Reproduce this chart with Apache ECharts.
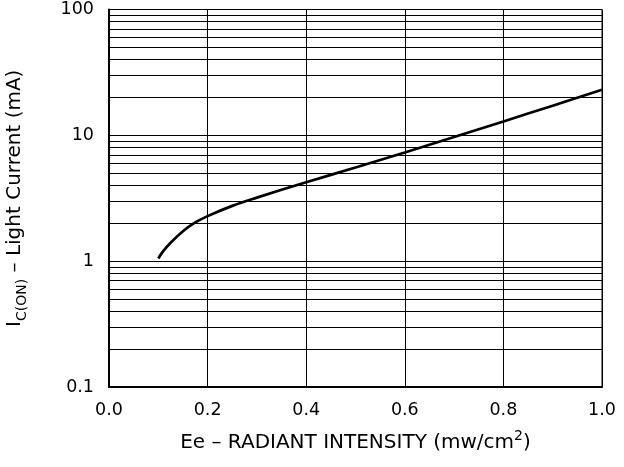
<!DOCTYPE html>
<html>
<head>
<meta charset="utf-8">
<script src="https://cdn.jsdelivr.net/npm/echarts@6/dist/echarts.min.js"></script>
<style>html,body{margin:0;padding:0;background:#fff}#c{width:624px;height:467px}</style>
</head>
<body>
<div id="c"></div>
<script>
const irradiance = [0.1, 0.11, 0.125, 0.15, 0.175, 0.2, 0.25, 0.3, 0.4, 0.5, 0.6, 0.7, 0.8, 0.9, 1.0];
const lightCurrent = [1.05, 1.2, 1.4, 1.73, 2.03, 2.28, 2.75, 3.2, 4.24, 5.55, 7.3, 9.7, 12.9, 17.2, 23];
const minorGridValues = [0.2,0.3,0.4,0.5,0.6,0.7,0.8,0.9, 2,3,4,5,6,7,8,9, 20,30,40,50,60,70,80,90];
const xTicks = ['0.0','0.2','0.4','0.6','0.8','1.0'];

const FONT = 'DejaVu Sans';
const chart = echarts.init(document.getElementById('c'), null, {renderer: 'canvas'});
chart.setOption({
  animation: false,
  backgroundColor: '#fff',
  grid: {left: 109, right: 22, top: 9.5, bottom: 80, show: true, borderColor: '#000', borderWidth: 1,
         containLabel: false, outerBoundsMode: 'none'},
  xAxis: {
    type: 'value', min: 0, max: 1, interval: 0.2,
    axisLine: {show: true, lineStyle: {color: '#000', width: 2}},
    axisTick: {show: false},
    axisLabel: {color: '#000', fontFamily: FONT, fontSize: 17.5, margin: 14,
      formatter: v => xTicks[Math.round(v / 0.2)]},
    splitLine: {show: true, lineStyle: {color: '#000', width: 1}},
    name: '{a|Ee – RADIANT INTENSITY (mw/cm}{sup|2}{a|)}',
    nameLocation: 'middle', nameGap: 42,
    nameTextStyle: {color: '#000', fontFamily: FONT, rich: {
      a: {fontFamily: FONT, fontSize: 20, color: '#000', lineHeight: 24, verticalAlign: 'bottom'},
      sup: {fontFamily: FONT, fontSize: 14, color: '#000', lineHeight: 24, verticalAlign: 'top', padding: [0,0,7,0]}
    }}
  },
  yAxis: {
    type: 'log', logBase: 10, min: 0.1, max: 100,
    axisLine: {show: true, lineStyle: {color: '#000', width: 2}},
    axisTick: {show: false},
    axisLabel: {color: '#000', fontFamily: FONT, fontSize: 17.5, margin: 15,
      formatter: v => String(Math.round(v * 10) / 10)},
    splitLine: {show: true, lineStyle: {color: '#000', width: 1}},
    name: '{a|I}{s|C(ON)}{a| – Light Current (mA)}',
    nameLocation: 'middle', nameGap: 80, nameRotate: 90,
    nameTextStyle: {color: '#000', fontFamily: FONT, rich: {
      a: {fontFamily: FONT, fontSize: 20, color: '#000', lineHeight: 24, verticalAlign: 'top'},
      s: {fontFamily: FONT, fontSize: 14, color: '#000', lineHeight: 16, verticalAlign: 'bottom', padding: [14,0,0,0]}
    }}
  },
  series: [{
    type: 'line',
    data: irradiance.map((x, i) => [x, lightCurrent[i]]),
    smooth: 0.4,
    showSymbol: false,
    lineStyle: {color: '#000', width: 2.7},
    markLine: {
      silent: true, symbol: 'none', label: {show: false},
      lineStyle: {color: '#000', width: 1, type: 'solid'},
      data: minorGridValues.map(v => ({yAxis: v}))
    },
    z: 5
  }]
});
</script>
</body>
</html>
